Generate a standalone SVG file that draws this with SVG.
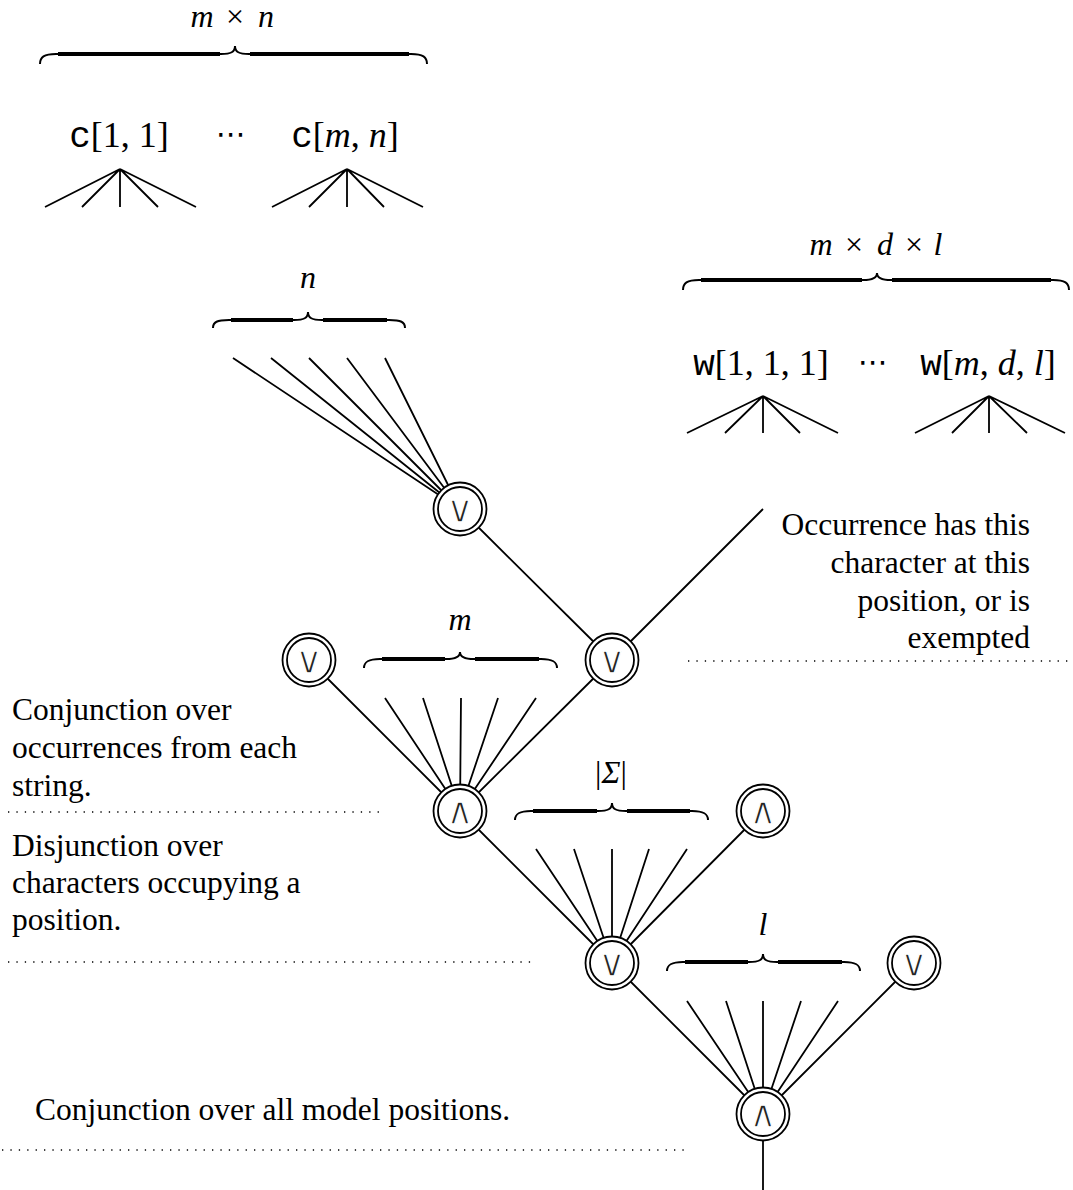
<svg xmlns="http://www.w3.org/2000/svg" width="1073" height="1190" viewBox="0 0 1073 1190">
<style>
  .ln { stroke: #000; stroke-width: 1.8; fill: none; stroke-linecap: butt; }
  .br { stroke: #000; stroke-width: 2; fill: none; }
  .brt { stroke: #000; stroke-width: 4; fill: none; }
  .dot { stroke: #000; stroke-width: 1.3; fill: none; stroke-dasharray: 1.3 7.1; }
  .nodeo { fill: #fff; stroke: #000; stroke-width: 1.8; }
  .nodei { fill: none; stroke: #000; stroke-width: 1.8; }
  .sym { font-family: "DejaVu Sans", sans-serif; font-size: 38px; text-anchor: middle; fill: #222; stroke: #fff; stroke-width: 1.3px; }
  .math { font-family: "Liberation Serif", "Times New Roman", serif; font-size: 32px; font-style: italic; fill: #000; text-anchor: middle; }
  .up { font-style: normal; }
  .big { font-family: "Liberation Serif", "Times New Roman", serif; font-size: 36px; fill: #000; text-anchor: middle; }
  .tt { font-family: "Liberation Mono", "Courier New", monospace; }
  .it { font-style: italic; }
  .note { font-family: "Liberation Serif", "Times New Roman", serif; font-size: 31.5px; fill: #000; }
  .dots { font-family: "DejaVu Sans", sans-serif; font-size: 30px; text-anchor: middle; fill: #000; }
</style>

<g id="connectors">
  <path class="ln" d="M120,169 L45,207 M120,169 L82,207 M120,169 L120,207 M120,169 L158,207 M120,169 L196,207"/>
  <path class="ln" d="M347,169 L272,207 M347,169 L309,207 M347,169 L347,207 M347,169 L384,207 M347,169 L423,207"/>
  <path class="ln" d="M763,396 L687,433 M763,396 L725,433 M763,396 L763,433 M763,396 L800,433 M763,396 L838,433"/>
  <path class="ln" d="M989,396 L915,433 M989,396 L952,433 M989,396 L989,433 M989,396 L1027,433 M989,396 L1065,433"/>
  <path class="ln" d="M233,358 L460,509 M271,358 L460,509 M309,358 L460,509 M347,358 L460,509 M385,358 L460,509"/>
  <path class="ln" d="M460,509 L612,660 M612,660 L763,509"/>
  <path class="ln" d="M309,660 L460,811 M612,660 L460,811 M385,698 L460,811 M423,698 L460,811 M461,698 L460,811 M498,698 L460,811 M536,698 L460,811"/>
  <path class="ln" d="M460,811 L612,963 M763,811 L612,963 M536,849 L612,963 M574,849 L612,963 M612,849 L612,963 M649,849 L612,963 M687,849 L612,963"/>
  <path class="ln" d="M612,963 L763,1114 M914,963 L763,1114 M687,1001 L763,1114 M726,1001 L763,1114 M763,1001 L763,1114 M801,1001 L763,1114 M838,1001 L763,1114"/>
  <path class="ln" d="M763,1114 L763,1190"/>
</g>

<g id="braces">
  <path class="br" d="M40,64 C40,57 44,54 56,54 L221,54 C231,54 235,52 235,46 C235,52 239,54 249,54 L411,54 C423,54 427,57 427,64"/>
  <path class="brt" d="M58,54 L220,54 M250,54 L409,54"/>
  <path class="br" d="M683,290 C683,283 687,280 699,280 L863,280 C873,280 877,278 877,273 C877,278 881,280 891,280 L1053,280 C1065,280 1069,283 1069,290"/>
  <path class="brt" d="M701,280 L862,280 M892,280 L1051,280"/>
  <path class="br" d="M213,328 C213,322 217,320 229,320 L294,320 C304,320 308,318 308,312 C308,318 312,320 322,320 L389,320 C401,320 405,322 405,328"/>
  <path class="brt" d="M231,320 L293,320 M323,320 L387,320"/>
  <path class="br" d="M364,668 C364,662 368,659 380,659 L446,659 C456,659 460,657 460,652 C460,657 464,659 474,659 L541,659 C553,659 557,662 557,668"/>
  <path class="brt" d="M382,659 L445,659 M475,659 L539,659"/>
  <path class="br" d="M515,820 C515,814 519,811 531,811 L598,811 C608,811 612,809 612,803 C612,809 616,811 626,811 L692,811 C704,811 708,814 708,820"/>
  <path class="brt" d="M533,811 L597,811 M627,811 L690,811"/>
  <path class="br" d="M667,971 C667,965 671,962 683,962 L749,962 C759,962 763,960 763,954 C763,960 767,962 777,962 L844,962 C856,962 860,965 860,971"/>
  <path class="brt" d="M685,962 L748,962 M778,962 L842,962"/>
</g>

<g id="brace-labels">
  <text class="math"><tspan x="202" y="27">m</tspan><tspan class="up" x="235" y="27">×</tspan><tspan x="266" y="27">n</tspan></text>
  <text class="math"><tspan x="821" y="255">m</tspan><tspan class="up" x="854" y="255">×</tspan><tspan x="885" y="255">d</tspan><tspan class="up" x="914" y="255">×</tspan><tspan x="938" y="255">l</tspan></text>
  <text class="math" x="308" y="288">n</text>
  <text class="math" x="460" y="630">m</text>
  <text class="math" x="611" y="783" font-size="34"><tspan class="up">|</tspan>Σ<tspan class="up">|</tspan></text>
  <text class="math" x="763" y="935">l</text>
</g>

<g id="inputs">
  <text class="big" x="119" y="147"><tspan class="tt">c</tspan>[1, 1]</text>
  <text class="dots" x="231" y="144">⋯</text>
  <text class="big" x="345" y="147"><tspan class="tt">c</tspan>[<tspan class="it">m</tspan>, <tspan class="it">n</tspan>]</text>
  <text class="big" x="761" y="375"><tspan class="tt">w</tspan>[1, 1, 1]</text>
  <text class="dots" x="873" y="372">⋯</text>
  <text class="big" x="988" y="375"><tspan class="tt">w</tspan>[<tspan class="it">m</tspan>, <tspan class="it">d</tspan>, <tspan class="it">l</tspan>]</text>
</g>

<g id="n1"><circle class="nodeo" cx="460" cy="509" r="26.5"/><circle class="nodei" cx="460" cy="509" r="22"/><text class="sym" x="460" y="522">∨</text></g>
<g id="n2"><circle class="nodeo" cx="612" cy="660" r="26.5"/><circle class="nodei" cx="612" cy="660" r="22"/><text class="sym" x="612" y="673">∨</text></g>
<g id="n3"><circle class="nodeo" cx="309" cy="660" r="26.5"/><circle class="nodei" cx="309" cy="660" r="22"/><text class="sym" x="309" y="673">∨</text></g>
<g id="n4"><circle class="nodeo" cx="460" cy="811" r="26.5"/><circle class="nodei" cx="460" cy="811" r="22"/><text class="sym" x="460" y="824">∧</text></g>
<g id="n5"><circle class="nodeo" cx="763" cy="811" r="26.5"/><circle class="nodei" cx="763" cy="811" r="22"/><text class="sym" x="763" y="824">∧</text></g>
<g id="n6"><circle class="nodeo" cx="612" cy="963" r="26.5"/><circle class="nodei" cx="612" cy="963" r="22"/><text class="sym" x="612" y="976">∨</text></g>
<g id="n7"><circle class="nodeo" cx="914" cy="963" r="26.5"/><circle class="nodei" cx="914" cy="963" r="22"/><text class="sym" x="914" y="976">∨</text></g>
<g id="n8"><circle class="nodeo" cx="763" cy="1114" r="26.5"/><circle class="nodei" cx="763" cy="1114" r="22"/><text class="sym" x="763" y="1127">∧</text></g>

<g id="notes">
  <text class="note" text-anchor="end"><tspan x="1030" y="535">Occurrence has this</tspan><tspan x="1030" y="573">character at this</tspan><tspan x="1030" y="611">position, or is</tspan><tspan x="1030" y="648">exempted</tspan></text>
  <path class="dot" d="M688,661 L1070,661"/>
  <text class="note"><tspan x="12" y="720">Conjunction over</tspan><tspan x="12" y="758">occurrences from each</tspan><tspan x="12" y="796">string.</tspan></text>
  <path class="dot" d="M8,812 L386,812"/>
  <text class="note"><tspan x="12" y="856">Disjunction over</tspan><tspan x="12" y="893">characters occupying a</tspan><tspan x="12" y="930">position.</tspan></text>
  <path class="dot" d="M8,962 L537,962"/>
  <text class="note" x="35" y="1120">Conjunction over all model positions.</text>
  <path class="dot" d="M2,1150 L690,1150"/>
</g>
</svg>
